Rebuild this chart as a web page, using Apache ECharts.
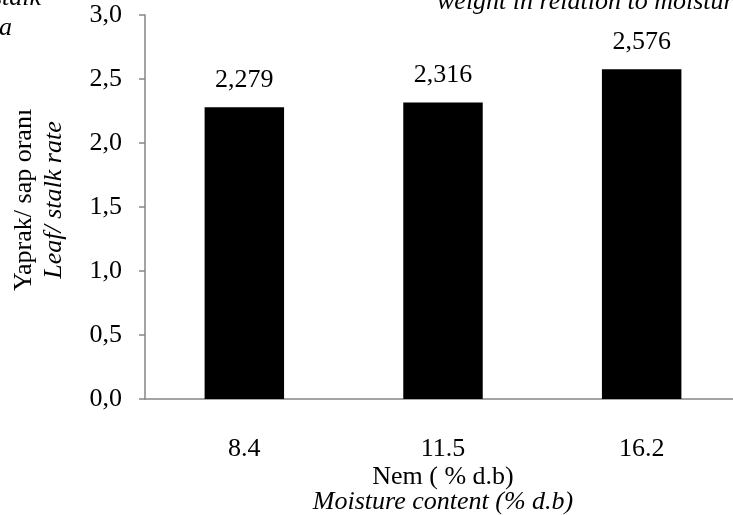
<!DOCTYPE html>
<html><head><meta charset="utf-8">
<script src="https://cdn.jsdelivr.net/npm/echarts@6/dist/echarts.min.js"></script>
<style>html,body{margin:0;padding:0;background:#fff}#c{width:733px;height:515px}</style>
</head><body><div id="c"></div>
<script>
var categories = ['8.4', '11.5', '16.2'];
var values = [2.279, 2.316, 2.576];
var yTicks = [0, 0.5, 1.0, 1.5, 2.0, 2.5, 3.0];

var chart = echarts.init(document.getElementById('c'));
var F = "'Liberation Serif', 'Times New Roman', serif";
var FS = 26;
chart.setOption({
  animation: false,
  grid: {left: 145, width: 596, top: 15, bottom: 116, containLabel: false, outerBoundsMode: 'none'},
  xAxis: {
    type: 'category', data: categories,
    axisLine: {lineStyle: {color: '#868686', width: 1.5}},
    axisTick: {show: false},
    axisLabel: {color: '#000', fontFamily: F, fontSize: FS, margin: 37}
  },
  yAxis: {
    type: 'value', min: yTicks[0], max: yTicks[yTicks.length - 1], interval: 0.5,
    splitLine: {show: false},
    axisLine: {show: true, lineStyle: {color: '#868686', width: 1.5}},
    axisTick: {show: true, inside: false, length: 6, lineStyle: {color: '#868686', width: 1.5}},
    axisLabel: {color: '#000', fontFamily: F, fontSize: FS, margin: 23,
      formatter: function (v) { return v.toFixed(1).replace('.', ','); }}
  },
  series: [{
    type: 'bar', data: values, barWidth: '40%',
    itemStyle: {color: '#000'},
    label: {show: true, position: 'top', distance: 14, color: '#000', fontFamily: F, fontSize: FS,
      formatter: function (p) { return p.value.toFixed(3).replace('.', ','); }}
  }],
  graphic: [
    {type: 'text', x: 24, y: 200, rotation: Math.PI / 2, style: {text: 'Yaprak/ sap oranı', font: FS + 'px ' + F, fill: '#000', textAlign: 'center', textVerticalAlign: 'middle'}},
    {type: 'text', x: 54, y: 200, rotation: Math.PI / 2, style: {text: 'Leaf/ stalk rate', font: 'italic ' + FS + 'px ' + F, fill: '#000', textAlign: 'center', textVerticalAlign: 'middle'}},
    {type: 'text', x: 443, y: 477, style: {text: 'Nem ( % d.b)', font: FS + 'px ' + F, fill: '#000', textAlign: 'center', textVerticalAlign: 'middle'}},
    {type: 'text', x: 443, y: 502, style: {text: 'Moisture content (% d.b)', font: 'italic ' + FS + 'px ' + F, fill: '#000', textAlign: 'center', textVerticalAlign: 'middle'}},
    {type: 'text', x: 41, y: 11, style: {text: 'stalk', font: 'italic ' + FS + 'px ' + F, fill: '#000', textAlign: 'right', textVerticalAlign: 'bottom'}},
    {type: 'text', x: -1, y: 28, style: {text: 'a', font: 'italic ' + FS + 'px ' + F, fill: '#000', textAlign: 'left', textVerticalAlign: 'middle'}},
    {type: 'text', x: 437, y: 15, style: {text: 'weight in relation to moisture', font: 'italic ' + FS + 'px ' + F, fill: '#000', textAlign: 'left', textVerticalAlign: 'bottom'}}
  ]
});
</script></body></html>
